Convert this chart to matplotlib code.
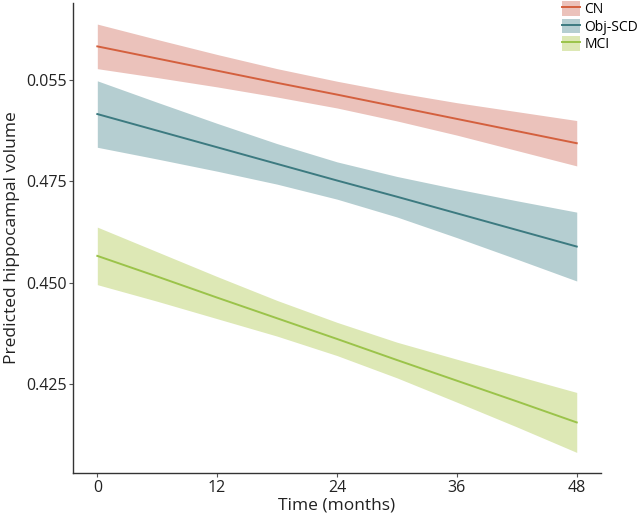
import numpy as np
import matplotlib
matplotlib.use('Agg')
import matplotlib.pyplot as plt
from matplotlib.patches import Patch
from matplotlib.lines import Line2D

plt.rcParams['font.family'] = ['Open Sans', 'DejaVu Sans']

# time points (months)
months = [0, 6, 12, 18, 24, 30, 36, 42, 48]

groups = ['CN', 'Obj-SCD', 'MCI']

# predicted values
cn_fit = [0.5083, 0.5053, 0.5023, 0.4993, 0.4964, 0.4934, 0.4904, 0.4874, 0.4844]
cn_upper = [0.5138, 0.5100, 0.5063, 0.5028, 0.4997, 0.4969, 0.4944, 0.4922, 0.4900]
cn_lower = [0.5028, 0.5006, 0.4983, 0.4958, 0.4931, 0.4899, 0.4864, 0.4826, 0.4788]

scd_fit = [0.4916, 0.4875, 0.4834, 0.4793, 0.4752, 0.4712, 0.4671, 0.4630, 0.4589]
scd_upper = [0.4998, 0.4945, 0.4893, 0.4843, 0.4798, 0.4762, 0.4731, 0.4702, 0.4674]
scd_lower = [0.4834, 0.4805, 0.4775, 0.4743, 0.4706, 0.4662, 0.4611, 0.4558, 0.4504]

mci_fit = [0.4566, 0.4515, 0.4463, 0.4412, 0.4361, 0.4309, 0.4258, 0.4207, 0.4155]
mci_upper = [0.4637, 0.4576, 0.4515, 0.4456, 0.4402, 0.4353, 0.4311, 0.4270, 0.4229]
mci_lower = [0.4495, 0.4454, 0.4411, 0.4368, 0.4320, 0.4265, 0.4205, 0.4144, 0.4081]

x_ticks = [0, 12, 24, 36, 48]
y_ticks = [0.425, 0.450, 0.475, 0.500]
y_tick_labels = ['0.425', '0.450', '0.475', '0.055']

line_cols = ['#D4603E', '#3C7A80', '#9BC34A']
band_cols = ['#EBC2BB', '#B5CED1', '#DDE8B5']

fits = [cn_fit, scd_fit, mci_fit]
uppers = [cn_upper, scd_upper, mci_upper]
lowers = [cn_lower, scd_lower, mci_lower]

fig = plt.figure(figsize=(6.4, 5.2), dpi=100)
ax = fig.add_axes([0.1146, 0.0910, 0.824, 0.9032])

for fit, lo, up, lc, bc in zip(fits, lowers, uppers, line_cols, band_cols):
    ax.fill_between(months, lo, up, color=bc, lw=0)
    ax.plot(months, fit, color=lc, lw=1.4)

ax.set_xlim(-2.4, 50.4)
ax.set_ylim(0.4031, 0.519)
ax.set_xticks(x_ticks)
ax.set_yticks(y_ticks)
ax.set_yticklabels(y_tick_labels)
ax.tick_params(labelsize=11.5, length=3, width=0.8, color='#555555', labelcolor='#222222', pad=2)

for s in ['top', 'right']:
    ax.spines[s].set_visible(False)
for s in ['left', 'bottom']:
    ax.spines[s].set_color('#333333')
    ax.spines[s].set_linewidth(1.0)

ax.set_xlabel('Time (months)', fontsize=12.5, color='#222222', labelpad=1)
ax.set_ylabel('Predicted hippocampal volume', fontsize=12.5, color='#222222', labelpad=4)

handles = [(Patch(color=bc, lw=0), Line2D([], [], color=lc, lw=1.4))
           for lc, bc in zip(line_cols, band_cols)]
fig.legend(handles, groups, loc='upper left', bbox_to_anchor=(561 / 640, 1.0),
           frameon=False, fontsize=10, handlelength=1.3, handleheight=1.25,
           labelspacing=0.1, handletextpad=0.3, borderpad=0.1, borderaxespad=0)

fig.savefig('out.png', dpi=100)
